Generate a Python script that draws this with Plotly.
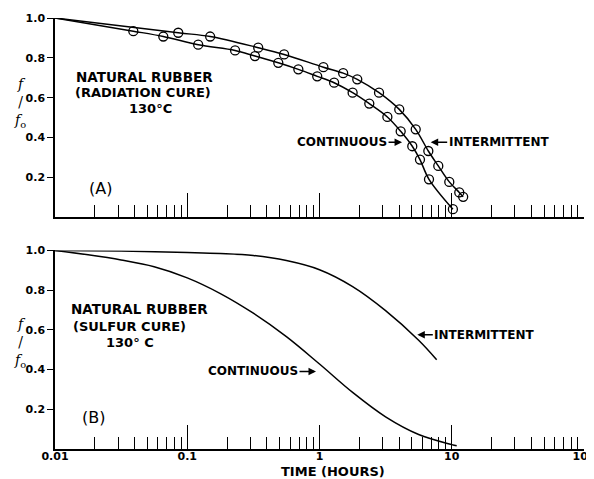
import math
import plotly.graph_objects as go

# ---------------- data ----------------
# start point shared by all curves
T0 = 0.01
F0 = 1.0

# (A) radiation cure - measured points
t_cont_A = [0.0391, 0.0659, 0.121, 0.230, 0.325, 0.488, 0.692, 0.961, 1.29, 1.78,
            2.38, 3.26, 4.11, 5.03, 5.75, 6.73, 10.2]
f_cont_A = [0.934, 0.907, 0.866, 0.837, 0.809, 0.775, 0.742, 0.707, 0.675, 0.625,
            0.570, 0.503, 0.431, 0.356, 0.289, 0.190, 0.040]

t_int_A = [0.0855, 0.149, 0.344, 0.540, 1.07, 1.51, 1.93, 2.82, 4.01, 5.34,
           6.65, 7.91, 9.58, 11.4, 12.2]
f_int_A = [0.926, 0.907, 0.851, 0.817, 0.753, 0.723, 0.692, 0.625, 0.541, 0.441,
           0.332, 0.257, 0.177, 0.124, 0.102]

# (B) sulfur cure - smooth curves (read at roughly even log steps)
t_cont_B = [0.01, 0.0178, 0.0316, 0.0562, 0.1, 0.178, 0.316, 0.562, 1.0, 1.78,
            3.16, 5.62, 10.0, 10.9]
f_cont_B = [1.0, 0.978, 0.952, 0.918, 0.862, 0.783, 0.684, 0.566, 0.428, 0.285,
            0.162, 0.073, 0.022, 0.016]

t_int_B = [0.01, 0.0316, 0.1, 0.178, 0.316, 0.562, 1.0, 1.78, 3.16, 5.62, 7.69]
f_int_B = [1.0, 0.997, 0.990, 0.985, 0.975, 0.949, 0.903, 0.818, 0.697, 0.548, 0.450]

y_tickvals = [0.2, 0.4, 0.6, 0.8, 1.0]
y_ticktext = ["0.2", "0.4", "0.6", "0.8", "1.0"]
x_tickvals = [0.01, 0.1, 1, 10, 100]
x_ticktext = ["0.01", "0.1", "1", "10", "100"]

# ---------------- figure ----------------
# the page body adds an 8px margin, so the figure is sized to the visible area
FONT = "DejaVu Sans"
LINE = dict(color="black", width=1.5, shape="spline", smoothing=1.0)
MARK = dict(symbol="circle-open", size=9, color="black", line=dict(color="black", width=1.3))

fig = go.Figure()

# panel A lines (start at common origin) + markers
fig.add_trace(go.Scatter(x=[T0] + t_cont_A, y=[F0] + f_cont_A, mode="lines",
                         line=LINE, xaxis="x", yaxis="y", showlegend=False))
fig.add_trace(go.Scatter(x=[T0] + t_int_A, y=[F0] + f_int_A, mode="lines",
                         line=LINE, xaxis="x", yaxis="y", showlegend=False))
fig.add_trace(go.Scatter(x=t_cont_A, y=f_cont_A, mode="markers", marker=MARK,
                         xaxis="x", yaxis="y", showlegend=False, cliponaxis=False))
fig.add_trace(go.Scatter(x=t_int_A, y=f_int_A, mode="markers", marker=MARK,
                         xaxis="x", yaxis="y", showlegend=False, cliponaxis=False))

# panel B lines
fig.add_trace(go.Scatter(x=t_cont_B, y=f_cont_B, mode="lines", line=LINE,
                         xaxis="x2", yaxis="y2", showlegend=False))
fig.add_trace(go.Scatter(x=t_int_B, y=f_int_B, mode="lines", line=LINE,
                         xaxis="x2", yaxis="y2", showlegend=False))

tickfont = dict(family=FONT, size=11, color="black", weight="bold")

def xax(anchor, labels):
    return dict(type="log", range=[-2, 2], anchor=anchor, domain=[0, 1],
                showline=True, linecolor="black", linewidth=1.5,
                showgrid=False, zeroline=False,
                tickmode="array", tickvals=x_tickvals, ticktext=x_ticktext,
                ticks="inside", ticklen=24, tickwidth=1.3, tickcolor="black",
                showticklabels=labels, tickfont=tickfont,
                ticklabeloverflow="allow", ticklabelstandoff=-4,
                minor=dict(dtick="D1", ticks="inside", ticklen=12, tickwidth=1.2,
                           tickcolor="black", showgrid=False))

def yax(anchor, dom):
    return dict(range=[0, 1.0], anchor=anchor, domain=dom,
                showline=True, linecolor="black", linewidth=1.5,
                showgrid=False, zeroline=False,
                tickmode="array", tickvals=y_tickvals, ticktext=y_ticktext,
                ticks="outside", ticklen=6, tickwidth=1.3, tickcolor="black",
                tickfont=tickfont)

fig.update_layout(
    width=586, height=471,
    margin=dict(l=47, r=10, t=10, b=30, autoexpand=False),
    paper_bgcolor="white", plot_bgcolor="white",
    xaxis=xax("y", False),
    yaxis=yax("x", [0.538, 1.0]),
    xaxis2=xax("y2", True),
    yaxis2=yax("x2", [0.0, 0.4606]),
)

lg = math.log10
txt = dict(family=FONT, size=12, color="black", weight="bold")
ann = []

def note(text, xr, yr, t, f, size=None, weight="bold", **kw):
    font = dict(txt)
    if size:
        font["size"] = size
    font["weight"] = weight
    ann.append(dict(text=text, xref=xr, yref=yr, x=lg(t), y=f, showarrow=False,
                    font=font, **kw))

# panel A labels
note("NATURAL RUBBER", "x", "y", 0.0479, 0.702, size=13.5)
note("(RADIATION CURE)", "x", "y", 0.0463, 0.627, size=13)
note("130°C", "x", "y", 0.0523, 0.546, size=13)
note("(A)", "x", "y", 0.0219, 0.145, size=16, weight="normal")

# panel B labels
note("NATURAL RUBBER", "x2", "y2", 0.0432, 0.706, size=13.5)
note("(SULFUR CURE)", "x2", "y2", 0.0369, 0.616, size=13)
note("130° C", "x2", "y2", 0.0369, 0.535, size=13)
note("(B)", "x2", "y2", 0.0194, 0.158, size=16, weight="normal")

def arrow(text, xr, yr, t, f, ax):
    ann.append(dict(text=text, xref=xr, yref=yr, x=lg(t), y=f, ax=ax, ay=0,
                    showarrow=True, arrowhead=2, arrowsize=1, arrowwidth=1.5,
                    arrowcolor="black", standoff=0, font=dict(txt, size=12)))

arrow("CONTINUOUS", "x", "y", 4.21, 0.376, -60)
arrow("INTERMITTENT", "x", "y", 6.93, 0.376, 68)
arrow("CONTINUOUS", "x2", "y2", 0.941, 0.391, -63)
arrow("INTERMITTENT", "x2", "y2", 5.49, 0.575, 67)

# y titles f / f0
for yc in (0.803, 0.246):
    ann.append(dict(text="<i>f</i><br>/<br><i>f</i><sub>o</sub>", xref="paper", yref="paper",
                    x=-0.066, y=yc, xanchor="center", yanchor="middle", showarrow=False,
                    font=dict(family="DejaVu Serif", size=14, color="black")))

# x title
ann.append(dict(text="TIME (HOURS)", xref="paper", yref="paper", x=0.5255, y=-0.052,
                xanchor="center", yanchor="middle", showarrow=False,
                font=dict(family=FONT, size=13, color="black", weight="bold")))

fig.update_layout(annotations=ann)
fig.write_html("out.html")
